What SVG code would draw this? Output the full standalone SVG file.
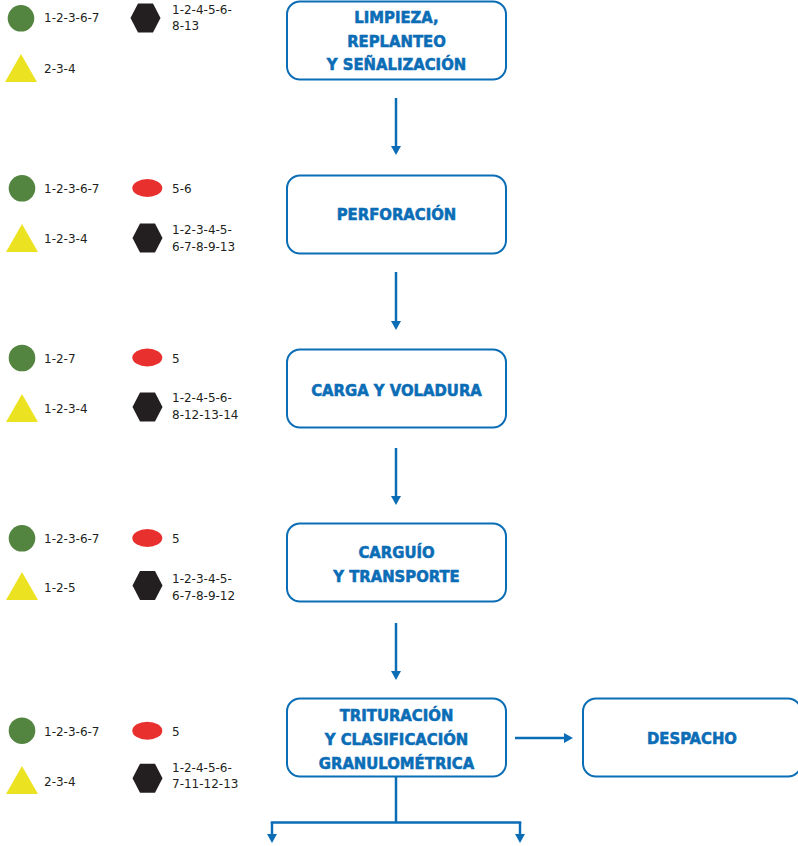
<svg xmlns="http://www.w3.org/2000/svg" width="798" height="846" viewBox="0 0 798 846">
<defs>
<style>
.box{fill:#fff;stroke:#0b6db6;stroke-width:2}
.bt{font-family:"DejaVu Sans Condensed","DejaVu Sans",sans-serif;font-stretch:condensed;font-weight:bold;font-size:16.5px;fill:#0b6db6;stroke:#0b6db6;stroke-width:0.55;text-anchor:middle}
.lb{font-family:"DejaVu Sans",sans-serif;font-size:12px;fill:#231f20}
.g{fill:#538440}
.y{fill:#ebe322}
.r{fill:#e8312f}
.h{fill:#231f20}
.c{fill:none;stroke:#0b6db6;stroke-width:2.5}
</style>
<marker id="ah" markerUnits="userSpaceOnUse" markerWidth="10" markerHeight="11" refX="2" refY="5.5" orient="auto" viewBox="0 0 10 11">
<path d="M0,0.5 L9,5.5 L0,10.5 z" fill="#0b6db6"/>
</marker>
<polygon id="hex" points="-15,0 -7.5,-14.5 7.5,-14.5 15,0 7.5,14.5 -7.5,14.5"/>
<polygon id="tri" points="0,0 16,28 -16,28"/>
</defs>

<g id="connectors">
<path class="c" d="M396,98 V148" marker-end="url(#ah)"/>
<path class="c" d="M396,272 V323" marker-end="url(#ah)"/>
<path class="c" d="M396,448 V498" marker-end="url(#ah)"/>
<path class="c" d="M396,623 V673" marker-end="url(#ah)"/>
<path class="c" d="M515,738 H566" marker-end="url(#ah)"/>
<path class="c" d="M396,777 V822.5"/>
<path class="c" d="M270.75,822.5 H521.25"/>
<path class="c" d="M272,822.5 V836" marker-end="url(#ah)"/>
<path class="c" d="M520,822.5 V836" marker-end="url(#ah)"/>
</g>

<g id="n1">
<rect class="box" x="287" y="1.5" width="219" height="78" rx="13"/>
<text class="bt" x="396.5" y="23">LIMPIEZA,</text>
<text class="bt" x="396.5" y="46.5">REPLANTEO</text>
<text class="bt" x="396.5" y="70">Y SEÑALIZACIÓN</text>
</g>
<g id="n2">
<rect class="box" x="287" y="175.5" width="219" height="78" rx="13"/>
<text class="bt" x="396.5" y="219.5">PERFORACIÓN</text>
</g>
<g id="n3">
<rect class="box" x="287" y="349.5" width="219" height="78" rx="13"/>
<text class="bt" x="396.5" y="396">CARGA Y VOLADURA</text>
</g>
<g id="n4">
<rect class="box" x="287" y="523.5" width="219" height="78" rx="13"/>
<text class="bt" x="396.5" y="558">CARGUÍO</text>
<text class="bt" x="396.5" y="582">Y TRANSPORTE</text>
</g>
<g id="n5">
<rect class="box" x="287" y="698.5" width="219" height="78" rx="13"/>
<text class="bt" x="396.5" y="721">TRITURACIÓN</text>
<text class="bt" x="396.5" y="745">Y CLASIFICACIÓN</text>
<text class="bt" x="396.5" y="768.5">GRANULOMÉTRICA</text>
</g>
<g id="n6">
<rect class="box" x="583" y="698.5" width="218" height="78" rx="13"/>
<text class="bt" x="692" y="744">DESPACHO</text>
</g>

<g id="legend1">
<circle class="g" cx="21" cy="18.3" r="13.3"/>
<text class="lb" x="44" y="22">1-2-3-6-7</text>
<use href="#hex" class="h" x="145.5" y="18"/>
<text class="lb" x="172" y="13.5">1-2-4-5-6-</text>
<text class="lb" x="172" y="30">8-13</text>
<use href="#tri" class="y" x="21" y="54"/>
<text class="lb" x="44" y="72.5">2-3-4</text>
</g>
<g id="legend2">
<circle class="g" cx="22" cy="188.3" r="13.3"/>
<text class="lb" x="44" y="193">1-2-3-6-7</text>
<ellipse class="r" cx="147.3" cy="188" rx="15" ry="9"/>
<text class="lb" x="172" y="193">5-6</text>
<use href="#tri" class="y" x="22" y="224"/>
<text class="lb" x="44" y="243">1-2-3-4</text>
<use href="#hex" class="h" x="147.5" y="238"/>
<text class="lb" x="172" y="234">1-2-3-4-5-</text>
<text class="lb" x="172" y="250.5">6-7-8-9-13</text>
</g>
<g id="legend3">
<circle class="g" cx="22" cy="358" r="13.3"/>
<text class="lb" x="44" y="362.5">1-2-7</text>
<ellipse class="r" cx="147.3" cy="357.5" rx="15" ry="9"/>
<text class="lb" x="172" y="362.5">5</text>
<use href="#tri" class="y" x="22" y="394"/>
<text class="lb" x="44" y="413">1-2-3-4</text>
<use href="#hex" class="h" x="147.5" y="407"/>
<text class="lb" x="172" y="402">1-2-4-5-6-</text>
<text class="lb" x="172" y="418.5">8-12-13-14</text>
</g>
<g id="legend4">
<circle class="g" cx="22" cy="538.3" r="13.3"/>
<text class="lb" x="44" y="542.5">1-2-3-6-7</text>
<ellipse class="r" cx="147.3" cy="538" rx="15" ry="9"/>
<text class="lb" x="172" y="542.5">5</text>
<use href="#tri" class="y" x="22" y="572"/>
<text class="lb" x="44" y="592">1-2-5</text>
<use href="#hex" class="h" x="147.5" y="585.5"/>
<text class="lb" x="172" y="583">1-2-3-4-5-</text>
<text class="lb" x="172" y="599.5">6-7-8-9-12</text>
</g>
<g id="legend5">
<circle class="g" cx="22" cy="730.7" r="13.3"/>
<text class="lb" x="44" y="735.5">1-2-3-6-7</text>
<ellipse class="r" cx="147.3" cy="730.7" rx="15" ry="9"/>
<text class="lb" x="172" y="735.5">5</text>
<use href="#tri" class="y" x="22" y="766"/>
<text class="lb" x="44" y="786">2-3-4</text>
<use href="#hex" class="h" x="147.5" y="778.3"/>
<text class="lb" x="172" y="771.5">1-2-4-5-6-</text>
<text class="lb" x="172" y="788">7-11-12-13</text>
</g>
</svg>
